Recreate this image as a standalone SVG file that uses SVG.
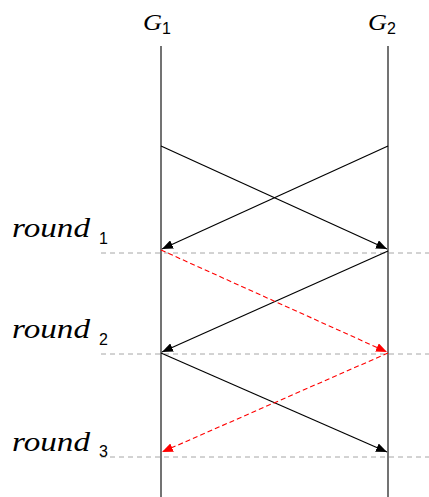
<svg xmlns="http://www.w3.org/2000/svg" width="429" height="497" viewBox="0 0 429 497">
<style>
.life{stroke:#505050;stroke-width:1.6;fill:none}
.grid{stroke:#a6a6a6;stroke-width:1;stroke-dasharray:5,4;fill:none}
.msg{stroke:#000;stroke-width:1.2;fill:none}
.red{stroke:#ff0000;stroke-width:1.1;stroke-dasharray:5,3;fill:none}
.lbl{font-family:"Liberation Serif","DejaVu Serif",serif;font-style:italic;fill:#000}
.sub{font-family:"Liberation Sans","DejaVu Sans",sans-serif;fill:#000;font-size:16px}
</style>
<defs>
<marker id="ab" viewBox="0 0 11 9" refX="11" refY="4.5" markerWidth="11" markerHeight="9" markerUnits="userSpaceOnUse" orient="auto"><path d="M0,0 L11,4.5 L0,9 z" fill="#000"/></marker>
<marker id="ar" viewBox="0 0 11 9" refX="11" refY="4.5" markerWidth="11" markerHeight="9" markerUnits="userSpaceOnUse" orient="auto"><path d="M0,0 L11,4.5 L0,9 z" fill="#ff0000"/></marker>
</defs>
<g id="grid">
<line class="grid" x1="101" y1="253" x2="429" y2="253"/>
<line class="grid" x1="101" y1="354" x2="429" y2="354"/>
<line class="grid" x1="101" y1="457" x2="429" y2="457"/>
</g>
<g id="G1">
<line class="life" x1="161" y1="46" x2="161" y2="497"/>
<text class="lbl" x="143" y="30" font-size="24" textLength="19" lengthAdjust="spacingAndGlyphs">G</text>
<text class="sub" x="162" y="34">1</text>
</g>
<g id="G2">
<line class="life" x1="388" y1="46" x2="388" y2="497"/>
<text class="lbl" x="368" y="30" font-size="24" textLength="19" lengthAdjust="spacingAndGlyphs">G</text>
<text class="sub" x="387" y="34">2</text>
</g>
<g id="labels">
<text class="lbl" x="12" y="237" font-size="28" textLength="78" lengthAdjust="spacingAndGlyphs">round</text>
<text class="sub" x="99" y="244">1</text>
<text class="lbl" x="12" y="338" font-size="28" textLength="78" lengthAdjust="spacingAndGlyphs">round</text>
<text class="sub" x="99" y="345">2</text>
<text class="lbl" x="12" y="451" font-size="28" textLength="78" lengthAdjust="spacingAndGlyphs">round</text>
<text class="sub" x="99" y="457">3</text>
</g>
<g id="connectors">
<line class="msg" x1="161" y1="146" x2="387" y2="249" marker-end="url(#ab)"/>
<line class="msg" x1="388" y1="146" x2="162" y2="249" marker-end="url(#ab)"/>
<line class="msg" x1="388" y1="251" x2="162" y2="352" marker-end="url(#ab)"/>
<line class="msg" x1="161" y1="353" x2="387" y2="452" marker-end="url(#ab)"/>
<line class="red" x1="161" y1="250" x2="387" y2="352" marker-end="url(#ar)"/>
<line class="red" x1="388" y1="353" x2="162" y2="452" marker-end="url(#ar)"/>
</g>
</svg>
